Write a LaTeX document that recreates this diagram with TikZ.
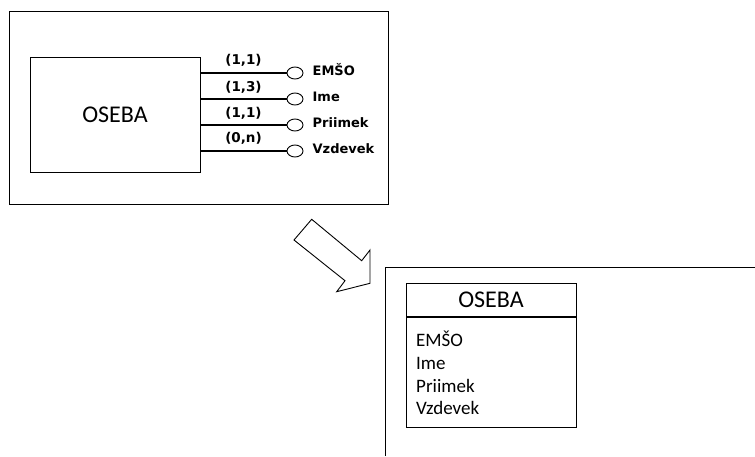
\documentclass[tikz,border=0pt]{standalone}
\usepackage{fontspec}
\setmainfont{Carlito}
\newfontfamily\labelfont{DejaVu Sans}
\usetikzlibrary{positioning, shapes.geometric}

\begin{document}
\begin{tikzpicture}[x=1pt, y=-1pt,
    entity/.style={draw, line width=0.9pt, minimum width=170pt, minimum height=115pt, font=\fontsize{24}{28}\selectfont},
    attr/.style={ellipse, draw, line width=0.9pt, minimum width=16pt, minimum height=12pt, inner sep=0pt},
    card/.style={above=3.5pt, inner sep=2pt, font=\labelfont\bfseries\fontsize{13.5}{16}\selectfont},
    attrname/.style={anchor=base west, inner sep=0pt, font=\labelfont\bfseries\fontsize{13}{16}\selectfont},
    heavy/.style={line width=2.2pt},
    light/.style={line width=1.1pt},
    tbox/.style={draw, line width=0.9pt, minimum width=170pt, inner sep=0pt},
    item/.style={anchor=base west, inner sep=0pt, font=\fontsize{19}{22}\selectfont}]
  \useasboundingbox (0,0) rectangle (755,456);

  % ER diagram
  \draw[line width=0.9pt] (9,11) rectangle (388,204);
  \node[entity] (ent) at (115,114.5) {OSEBA};
  \node[attr] (a1) at (295,73) {};
  \node[attr] (a2) at (295,99) {};
  \node[attr] (a3) at (295,125) {};
  \node[attr] (a4) at (295,151) {};
  \draw[heavy] (ent.east |- a1) -- node[card] {(1,1)} (a1);
  \draw[light] (ent.east |- a2) -- node[card] {(1,3)} (a2);
  \draw[light] (ent.east |- a3) -- node[card] {(1,1)} (a3);
  \draw[heavy] (ent.east |- a4) -- node[card] {(0,n)} (a4);
  \node[attrname] (n1) at ([xshift=9pt, yshift=-2.5pt]a1.east) {EMŠO};
  \node[attrname] (n2) at ([xshift=9pt, yshift=-2.5pt]a2.east) {Ime};
  \node[attrname] (n3) at ([xshift=9pt, yshift=-2.5pt]a3.east) {Priimek};
  \node[attrname] (n4) at ([xshift=9pt, yshift=-2.5pt]a4.east) {Vzdevek};

  % block arrow
  \draw[line width=0.9pt] (294,240) -- (311.7,219.3) -- (361.7,260.7) -- (370,250)
    -- (370,283.3) -- (336.7,291.7) -- (345,280.7) -- cycle;

  % relational table
  \draw[line width=0.9pt] (385,456) -- (385,267) -- (755,267);
  \node[tbox, minimum height=33.5pt, font=\fontsize{24}{28}\selectfont] (thead) at (491,300) {OSEBA};
  \node[tbox, minimum height=110pt, below=0pt of thead] (tbody) {};
  \node[item] (i1) at (416,346) {EMŠO};
  \node[item] (i2) at (416,369) {Ime};
  \node[item] (i3) at (416,392) {Priimek};
  \node[item] (i4) at (416,414.5) {Vzdevek};
\end{tikzpicture}
\end{document}
